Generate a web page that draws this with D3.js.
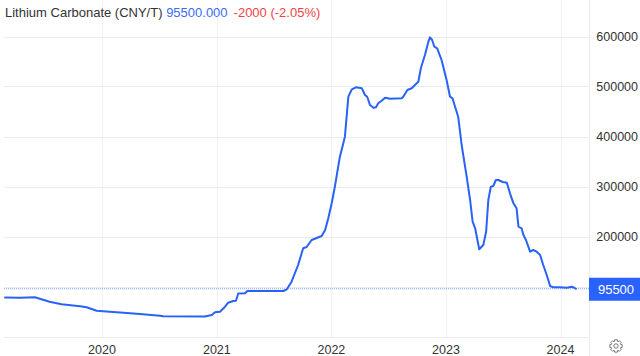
<!DOCTYPE html>
<html><head><meta charset="utf-8">
<script src="https://cdn.jsdelivr.net/npm/d3@7"></script>
<style>html,body{margin:0;padding:0;background:#fff;}svg{display:block;font-family:"Liberation Sans",Arial,sans-serif;}</style>
</head><body>
<script>
const dates = ["2019-02-26","2019-04-15","2019-06-01","2019-07-18","2019-08-25","2019-09-16","2019-10-23","2019-11-13","2019-12-15","2020-01-26","2020-03-09","2020-05-01","2020-07-04","2020-07-14","2020-11-24","2020-12-16","2020-12-26","2021-01-11","2021-01-27","2021-02-06","2021-02-22","2021-03-03","2021-03-10","2021-04-01","2021-04-08","2021-08-01","2021-08-12","2021-08-27","2021-09-17","2021-10-03","2021-10-14","2021-10-30","2021-12-01","2021-12-12","2021-12-22","2022-01-02","2022-01-12","2022-01-28","2022-02-08","2022-02-13","2022-02-24","2022-03-07","2022-03-20","2022-04-08","2022-04-18","2022-04-25","2022-05-04","2022-05-15","2022-05-23","2022-05-30","2022-06-10","2022-06-21","2022-07-07","2022-08-13","2022-08-18","2022-08-31","2022-09-14","2022-09-24","2022-10-05","2022-10-13","2022-10-26","2022-11-06","2022-11-11","2022-11-18","2022-11-25","2022-12-04","2022-12-18","2023-01-03","2023-01-14","2023-01-22","2023-01-30","2023-02-09","2023-02-20","2023-03-08","2023-03-19","2023-03-27","2023-04-04","2023-04-17","2023-04-30","2023-05-09","2023-05-16","2023-05-24","2023-06-01","2023-06-09","2023-06-17","2023-07-01","2023-07-14","2023-07-24","2023-08-04","2023-08-14","2023-08-20","2023-08-30","2023-09-05","2023-09-13","2023-09-26","2023-10-06","2023-10-17","2023-10-28","2023-11-07","2023-11-18","2023-11-29","2023-12-09","2023-12-30","2024-01-21","2024-02-06","2024-02-14","2024-02-19"];
const prices = [78000,77500,78400,69600,64400,63000,60400,58400,51600,49600,47600,45000,41600,40400,40000,43000,48400,49600,59600,67600,71000,71600,86000,86400,91000,91000,94400,109600,143000,176400,179000,193000,201000,213000,236400,266400,299600,359600,386400,399600,479600,494400,498400,496400,483000,479600,463000,457600,458400,466400,471600,477600,475600,476400,479600,493000,496400,503000,509600,536400,563000,589600,598400,593000,579600,576400,553000,513000,479600,476400,459600,439600,383000,319600,273000,229600,216400,174400,183000,209600,273000,299600,301000,313000,313000,309000,307600,286400,266400,256400,219600,216400,203000,193000,169600,173000,169600,163000,143000,123000,101000,98400,98400,97600,99600,97500,95500];
const yTicks = [100000,200000,300000,400000,500000,600000];
const yTickLabels = ["100000","200000","300000","400000","500000","600000"];
const xTickYears = ["2020","2021","2022","2023","2024"];
const lastValue = 95500;
const titleText = "Lithium Carbonate (CNY/T)";
const priceText = "95500.000";
const changeText = "-2000 (-2.05%)";

const W = 640, H = 356;
const pLeft = 4, pRight = 589, pTop = 0, pBottom = 337;
const parse = d3.timeParse("%Y-%m-%d");
const data = dates.map((d,i)=>({date:parse(d), v:prices[i]}));

const x = d3.scaleTime().domain([parse("2020-01-01"), parse("2024-01-01")]).range([102, 560.5]);
const y = d3.scaleLinear().domain([0, 600000]).range([336.5, 36.5]);

const svg = d3.select("body").append("svg").attr("width", W).attr("height", H);

svg.append("clipPath").attr("id","plot").append("rect")
  .attr("x", pLeft).attr("y", pTop).attr("width", pRight-pLeft).attr("height", pBottom-pTop);

const yearDates = xTickYears.map(t=>parse(t+"-01-01"));
svg.append("g").selectAll("line").data(yearDates).join("line")
  .attr("x1", d=>Math.round(x(d))+0.5).attr("x2", d=>Math.round(x(d))+0.5)
  .attr("y1", pTop).attr("y2", pBottom)
  .attr("stroke", "#eef1f6").attr("stroke-width", 1);

svg.append("g").selectAll("line").data(yTicks).join("line")
  .attr("x1", pLeft).attr("x2", pRight)
  .attr("y1", d=>Math.round(y(d))+0.5).attr("y2", d=>Math.round(y(d))+0.5)
  .attr("stroke", "#ececec").attr("stroke-width", 1);

svg.append("line").attr("x1", pRight+0.5).attr("x2", pRight+0.5).attr("y1", 0).attr("y2", H)
  .attr("stroke", "#ececec");
svg.append("line").attr("x1", pLeft).attr("x2", pRight).attr("y1", pBottom+0.5).attr("y2", pBottom+0.5)
  .attr("stroke", "#ececec");

svg.append("g").selectAll("text").data(yTicks.filter(d=>d>=200000)).join("text")
  .attr("x", 638).attr("y", d=>y(d)+4.5)
  .attr("text-anchor","end").attr("font-size", 12.5).attr("fill", "#333")
  .text((d)=>yTickLabels[yTicks.indexOf(d)]);

svg.append("g").selectAll("text").data(yearDates).join("text")
  .attr("x", d=>x(d)).attr("y", 354)
  .attr("text-anchor","middle").attr("font-size", 12.5).attr("fill", "#333")
  .text((d,i)=>xTickYears[i]);

svg.append("line").attr("x1", pLeft).attr("x2", pRight)
  .attr("y1", y(lastValue)).attr("y2", y(lastValue))
  .attr("stroke", "#5b8cff").attr("stroke-width", 0.8).attr("stroke-dasharray", "1,1");

svg.append("path").datum(data)
  .attr("clip-path","url(#plot)")
  .attr("fill","none").attr("stroke","#2962f6").attr("stroke-width",2)
  .attr("stroke-linejoin","round").attr("stroke-linecap","round")
  .attr("d", d3.line().x(d=>x(d.date)).y(d=>y(d.v)));

const ly = y(lastValue);
svg.append("rect").attr("x", pRight).attr("y", ly-11).attr("width", W-pRight).attr("height", 23)
  .attr("fill", "#2962ff");
svg.append("text").attr("x", 616).attr("y", ly+5).attr("text-anchor","middle")
  .attr("font-size", 13).attr("fill", "#fff").text(String(lastValue));

const t = svg.append("text").attr("x", 5).attr("y", 17).attr("font-size", 13);
t.append("tspan").attr("fill","#333").text(titleText + " ");
t.append("tspan").attr("fill","#3b6cf5").text(priceText);
t.append("tspan").attr("fill","#ef4444").attr("dx", 6).text(changeText);

const g = svg.append("g").attr("transform","translate(616,346)");
const teeth = 8, rO = 6.3, rI = 4.8;
let pts = [];
for (let i=0;i<teeth;i++){
  const a = i*2*Math.PI/teeth;
  const w = Math.PI/teeth*0.55;
  pts.push([rI, a-w*1.6],[rO, a-w],[rO, a+w],[rI, a+w*1.6]);
}
g.append("path").attr("d", d3.lineRadial().angle(d=>d[1]).radius(d=>d[0]).curve(d3.curveLinearClosed)(pts))
  .attr("fill","none").attr("stroke","#777").attr("stroke-width",1);
g.append("circle").attr("r",2.2).attr("fill","none").attr("stroke","#777").attr("stroke-width",1);
</script>
</body></html>
